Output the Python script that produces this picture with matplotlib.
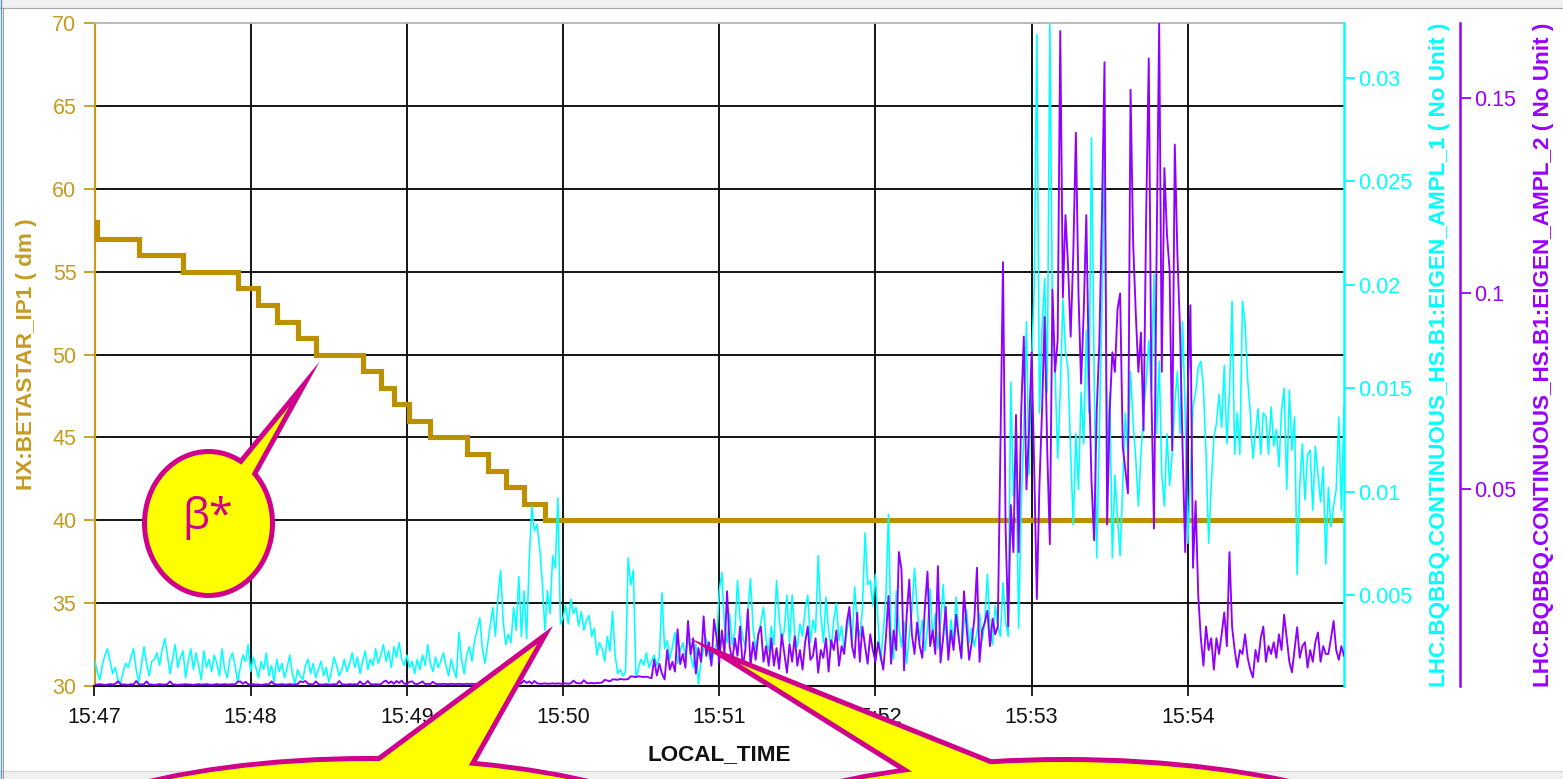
import numpy as np
import matplotlib
matplotlib.use("Agg")
import matplotlib.pyplot as plt
import matplotlib.dates as mdates
from matplotlib.patches import Ellipse, Polygon, Rectangle
from matplotlib.lines import Line2D
from matplotlib.ticker import FixedLocator, FuncFormatter
from matplotlib.transforms import Affine2D

plt.rcParams['font.family'] = ['Liberation Sans', 'DejaVu Sans']

# ---------------------------------------------------------------- data
DAY = '2012-10-28'
START = np.datetime64(f'{DAY}T15:47:00')
END = np.datetime64(f'{DAY}T15:55:00')
SAMPLE_STEP_S = 1

minute_ticks = ['15:47', '15:48', '15:49', '15:50', '15:51', '15:52', '15:53', '15:54']
betastar_ticks = [30, 35, 40, 45, 50, 55, 60, 65, 70]
ampl1_ticks = [0.005, 0.01, 0.015, 0.02, 0.025, 0.03]
ampl2_ticks = [0.05, 0.1, 0.15]

# beta* set-points: seconds after 15:47:00 and value (dm)
betastar_change_s = [0, 1, 17, 34, 55, 63, 70, 78, 85, 103, 110, 115, 121,
                     129, 143, 151, 158, 165, 173, 480]
betastar_dm = [58, 57, 56, 55, 54, 53, 52, 51, 50, 49, 48, 47, 46,
               45, 44, 43, 42, 41, 40, 40]

# EIGEN_AMPL_1, one sample per second, in units of 1e-4
ampl1_e4 = [
    19, 13, 9, 16, 21, 24, 18, 12, 15, 9, 7, 13, 17, 15, 20, 24, 14, 8, 16, 25,
    17, 11, 18, 19, 22, 16, 24, 29, 21, 12, 19, 26, 15, 20, 23, 10, 18, 24, 14, 22,
    16, 9, 23, 15, 19, 13, 21, 17, 11, 24, 14, 10, 19, 22, 16, 8, 15, 21, 18, 26,
    13, 20, 15, 10, 18, 14, 22, 11, 16, 8, 19, 13, 17, 10, 15, 21, 12, 7, 14, 11,
    9, 16, 19, 12, 17, 10, 14, 18, 11, 15, 8, 13, 20, 16, 11, 14, 19, 13, 17, 22,
    15, 20, 12, 18, 23, 14, 19, 16, 24, 17, 21, 26, 18, 23, 15, 25, 20, 27, 19, 16,
    21, 15, 18, 12, 19, 14, 21, 16, 26, 17, 13, 20, 15, 18, 22, 16, 11, 19, 14, 10,
    32, 19, 12, 21, 25, 18, 28, 33, 39, 24, 17, 26, 35, 44, 30, 49, 62, 37, 26, 31,
    27, 44, 33, 59, 30, 52, 29, 67, 93, 81, 84, 73, 57, 33, 52, 41, 69, 63, 97, 36,
    39, 45, 36, 48, 41, 44, 35, 42, 33, 38, 40, 30, 34, 21, 27, 24, 18, 30, 23, 42,
    21, 12, 14, 11, 13, 68, 55, 62, 10, 15, 19, 16, 22, 15, 18, 21, 16, 20, 51, 24,
    28, 19, 25, 32, 17, 23, 27, 20, 30, 21, 15, 26, 7, 18, 24, 29, 21, 17, 22, 27,
    52, 61, 35, 27, 41, 26, 33, 57, 38, 30, 25, 42, 58, 34, 24, 31, 37, 44, 28, 23,
    35, 26, 57, 39, 28, 33, 50, 27, 50, 31, 25, 36, 30, 43, 50, 27, 38, 32, 69, 41,
    27, 49, 33, 24, 38, 46, 28, 35, 23, 32, 41, 26, 54, 36, 30, 43, 80, 55, 57, 45,
    60, 37, 18, 32, 49, 89, 30, 19, 52, 35, 25, 37, 17, 31, 42, 63, 45, 27, 38, 23,
    34, 53, 29, 41, 24, 37, 55, 33, 22, 38, 27, 49, 31, 19, 36, 43, 27, 34, 25, 32,
    41, 28, 37, 60, 33, 26, 45, 35, 30, 56, 37, 30, 153, 98, 123, 34, 93, 128, 182, 108,
    163, 198, 321, 138, 178, 203, 148, 326, 183, 158, 116, 148, 193, 168, 159, 118, 84, 128, 101, 148,
    123, 178, 138, 271, 158, 68, 128, 188, 266, 115, 148, 68, 108, 87, 69, 103, 138, 118, 158, 133,
    116, 93, 118, 138, 153, 173, 148, 205, 128, 163, 108, 93, 128, 103, 118, 143, 158, 128, 182, 138,
    75, 108, 141, 148, 160, 163, 150, 118, 75, 103, 126, 133, 147, 131, 161, 123, 148, 192, 118, 138,
    118, 192, 181, 154, 138, 116, 128, 140, 118, 138, 136, 118, 141, 122, 130, 112, 139, 150, 101, 149,
    120, 136, 60, 103, 123, 96, 118, 120, 91, 122, 108, 95, 112, 65, 102, 83, 93, 101, 136, 91, 141,
]

# EIGEN_AMPL_2, one sample per second, in units of 1e-3
ampl2_e3 = [
    0.2, 0.2, 0.3, 0.2, 0.1, 0.2, 0.3, 0.2, 0.4, 1.0, 0.3, 0.2, 0.2, 0.1, 0.3, 0.2, 1.1, 0.3, 0.2, 0.3,
    1.0, 0.2, 0.2, 0.1, 0.2, 0.3, 0.2, 0.2, 0.3, 1.0, 0.3, 0.2, 0.1, 0.2, 0.2, 0.3, 0.2, 0.2, 0.1, 0.2,
    0.3, 0.2, 0.2, 0.3, 0.2, 0.1, 0.2, 0.3, 0.2, 0.2, 0.3, 0.2, 0.2, 0.3, 0.2, 0.9, 1.0, 0.4, 0.9, 0.3,
    0.2, 0.3, 0.2, 0.2, 0.1, 0.2, 0.3, 0.2, 1.0, 0.3, 0.2, 0.2, 0.3, 0.2, 0.2, 0.3, 0.2, 0.2, 0.3, 1.0,
    0.8, 1.1, 0.4, 0.3, 0.2, 1.0, 0.3, 0.2, 0.2, 0.3, 0.2, 0.2, 0.3, 0.2, 1.1, 0.3, 0.2, 0.2, 0.3, 0.2,
    0.3, 0.2, 1.0, 0.3, 0.4, 1.1, 0.3, 0.2, 0.3, 0.2, 0.3, 0.9, 1.2, 0.5, 1.0, 0.4, 1.1, 0.6, 1.2, 0.4,
    0.3, 0.9, 1.0, 0.4, 0.3, 0.6, 1.0, 0.3, 0.4, 0.3, 0.9, 0.4, 0.3, 0.3, 0.4, 0.3, 0.3, 0.4, 0.3, 0.3,
    0.4, 0.3, 0.3, 0.4, 0.3, 0.4, 0.3, 0.3, 0.4, 0.3, 0.4, 0.3, 0.4, 1.1, 0.4, 0.3, 0.4, 0.3, 0.4, 0.4,
    0.3, 0.4, 0.4, 0.3, 0.5, 1.2, 0.6, 1.0, 0.4, 1.1, 0.5, 0.4, 0.4, 0.5, 0.4, 0.4, 0.5, 0.4, 0.5, 0.4,
    0.5, 0.5, 0.4, 0.5, 1.2, 0.6, 0.5, 0.5, 1.3, 0.6, 0.5, 0.6, 0.5, 0.6, 0.6, 0.7, 1.4, 1.2, 1.0, 1.5,
    1.5, 1.4, 1.6, 1.5, 1.5, 1.6, 2.3, 2.2, 2.1, 2.3, 2.2, 2.1, 2.2, 2.0, 1.8, 6.6, 2.5, 5.5, 3.0, 1.5,
    9.0, 4.0, 6.0, 3.5, 14.3, 5.4, 8.0, 4.5, 16.4, 7.9, 12.0, 3.0, 9.5, 6.0, 17.6, 7.5, 11.0, 5.0, 16.8, 12.0,
    5.8, 14.0, 8.0, 24.0, 10.0, 6.0, 12.0, 7.5, 15.0, 4.5, 9.0, 19.4, 4.8, 11.0, 6.5, 13.0, 15.0, 6.0, 10.0, 5.0,
    12.0, 5.0, 9.5, 4.2, 13.0, 8.0, 3.2, 10.5, 6.0, 12.5, 5.0, 9.0, 4.0, 11.0, 15.0, 6.5, 7.5, 12.0, 3.2, 9.0,
    7.0, 12.0, 3.5, 11.5, 9.0, 14.0, 5.0, 10.0, 8.0, 16.0, 20.0, 10.0, 7.0, 18.5, 6.0, 15.0, 10.0, 5.5, 13.0, 9.0,
    6.0, 11.0, 7.5, 4.0, 12.0, 22.8, 5.5, 14.0, 9.0, 34.0, 29.6, 3.8, 18.0, 27.0, 13.0, 8.0, 16.0, 10.0, 7.0, 20.0,
    29.0, 10.0, 14.0, 8.0, 30.4, 5.8, 12.0, 20.0, 6.5, 14.0, 9.0, 18.0, 12.0, 7.0, 24.0, 15.0, 6.5, 11.0, 17.0, 30.0,
    6.0, 14.0, 16.0, 19.0, 10.0, 17.0, 13.0, 15.0, 60, 108, 40, 15, 46, 34, 69, 34, 70, 89, 50, 65,
    85, 55, 22, 51, 70, 94, 60, 36, 101, 80, 88, 167, 99, 120, 107, 89, 110, 141, 100, 77,
    95, 120, 80, 52, 37, 70, 87, 120, 159, 41, 70, 85, 80, 96, 100, 61, 55, 49, 152, 113,
    95, 80, 90, 65, 120, 160, 75, 40, 110, 169, 80, 132, 115, 106, 60, 138, 110, 91, 60, 34,
    75, 97, 30, 47, 23, 12, 5, 15, 9, 12, 4, 12, 8, 13, 18.6, 10, 34, 15, 9, 4.6,
    9, 8, 13, 7, 4, 2, 9, 6, 12, 15, 6, 10, 8, 11, 7, 13, 9, 18, 12, 6,
    3.3, 9, 14.8, 7, 10, 11, 4.5, 9, 6, 11, 13.5, 6, 10, 8, 8, 12, 16.4, 9, 6.5, 10, 7.5,
]

# ---------------------------------------------------------------- style
W, H = 1563, 779
GOLD_LINE = '#BD9000'
GOLD_TXT = '#C69B22'
CYAN = '#00FFFF'
PURPLE_LINE = '#8E00FF'
PURPLE_TXT = '#9A00FF'
GRID = '#141414'
YELLOW = '#FFFF00'
MAGENTA = '#D0008C'

fig = plt.figure(figsize=(W / 100, H / 100), dpi=100)
fig.patch.set_facecolor('white')

# pixel coordinates (origin top-left) for the window frame and callouts
pix = Affine2D().scale(1 / W, -1 / H).translate(0, 1) + fig.transFigure

# window frame
fig.add_artist(Rectangle((0, 0), W, 8, transform=pix, fc='#F0F0F0', ec='none', zorder=-5))
fig.add_artist(Line2D([0, W], [8.5, 8.5], transform=pix, color='#A9A9A9', lw=0.9, zorder=-4))
fig.add_artist(Rectangle((0, 772), W, 8, transform=pix, fc='#F0F0F0', ec='none', zorder=-5))
fig.add_artist(Line2D([0, W], [771.5, 771.5], transform=pix, color='#D4D4D4', lw=0.8, zorder=-4))
fig.add_artist(Line2D([0.8, 0.8], [0, H], transform=pix, color='#5A9BD8', lw=1.0, zorder=-4))
fig.add_artist(Line2D([2.8, 2.8], [8, H], transform=pix, color='#A0A0A0', lw=0.8, zorder=-4))

# plot area
x0, x1, y0, y1 = 94.5, 1344.0, 23.3, 686.0
ax = fig.add_axes([x0 / W, 1 - y1 / H, (x1 - x0) / W, (y1 - y0) / H])
ax.set_facecolor('white')

times = START + np.arange(len(ampl1_e4)) * np.timedelta64(SAMPLE_STEP_S, 's')
times2 = START + np.arange(len(ampl2_e3)) * np.timedelta64(SAMPLE_STEP_S, 's')
bs_times = START + np.array(betastar_change_s) * np.timedelta64(1, 's')

ax.plot(bs_times, betastar_dm, drawstyle='steps-post', color=GOLD_LINE, lw=3.7,
        solid_joinstyle='miter', zorder=3)
ax.set_xlim(START, END)
ax.set_ylim(30, 70)

xtick_pos = [mdates.date2num(np.datetime64(f'{DAY}T{s}:00')) for s in minute_ticks]
ax.xaxis.set_major_locator(FixedLocator(xtick_pos))
ax.xaxis.set_major_formatter(FuncFormatter(lambda v, p: minute_ticks[p] if p is not None and p < len(minute_ticks) else ''))
ax.set_xticks(xtick_pos, labels=minute_ticks)
ax.set_yticks(betastar_ticks)

# grid
for xv in xtick_pos[1:]:
    ax.axvline(xv, color=GRID, lw=1.4, zorder=1)
for yv in betastar_ticks[1:-1]:
    ax.axhline(yv, color=GRID, lw=1.4, zorder=1)

for side in ('right',):
    ax.spines[side].set_visible(False)
ax.spines['top'].set_color('#B4B4B4')
ax.spines['top'].set_linewidth(1.3)
ax.spines['left'].set_color(GOLD_TXT)
ax.spines['left'].set_linewidth(1.6)
ax.spines['bottom'].set_color('#111111')
ax.spines['bottom'].set_linewidth(1.5)

ax.tick_params(axis='y', colors=GOLD_TXT, length=8, width=1.3, pad=5, labelsize=15.5)
ax.tick_params(axis='x', colors='#111111', length=7.5, width=1.3, pad=7.5, labelsize=15.5)

ax.set_ylabel('HX:BETASTAR_IP1 ( dm )', color=GOLD_TXT, fontsize=16.2, fontweight='bold')
ax.yaxis.set_label_coords((27 - x0) / (x1 - x0), 0.5)
ax.yaxis.label.set_va('center')
ax.set_xlabel('LOCAL_TIME', color='#111111', fontsize=16.2, fontweight='bold')
ax.xaxis.set_label_coords(0.5, -(755 - y1) / (y1 - y0))
ax.xaxis.label.set_va('center')

# first amplitude (cyan axis)
ax2 = ax.twinx()
ax2.plot(times, np.array(ampl1_e4) * 1e-4, color=CYAN, lw=1.15, zorder=3)
ax2.set_ylim(0.000604, 0.03263)
ax2.yaxis.set_major_locator(FixedLocator(ampl1_ticks))
ax2.yaxis.set_major_formatter(FuncFormatter(lambda v, p: f'{v:g}'))
for side in ('top', 'left', 'bottom'):
    ax2.spines[side].set_visible(False)
ax2.spines['right'].set_color(CYAN)
ax2.spines['right'].set_linewidth(1.8)
ax2.tick_params(axis='y', colors=CYAN, length=8, width=1.3, pad=2, labelsize=15.5)
ax2.set_ylabel('LHC.BQBBQ.CONTINUOUS_HS.B1:EIGEN_AMPL_1 ( No Unit )', color=CYAN,
               fontsize=16.2, fontweight='bold')
ax2.yaxis.set_label_coords((1439 - x0) / (x1 - x0), 0.5)
ax2.yaxis.label.set_va('center')

# second amplitude (purple axis, offset)
ax3 = ax.twinx()
ax3.plot(times2, np.array(ampl2_e3) * 1e-3, color=PURPLE_LINE, lw=1.35, zorder=3)
ax3.set_ylim(-0.00018, 0.16895)
ax3.yaxis.set_major_locator(FixedLocator(ampl2_ticks))
ax3.yaxis.set_major_formatter(FuncFormatter(lambda v, p: f'{v:g}'))
for side in ('top', 'left', 'bottom'):
    ax3.spines[side].set_visible(False)
ax3.spines['right'].set_position(('axes', (1460 - x0) / (x1 - x0)))
ax3.spines['right'].set_color(PURPLE_TXT)
ax3.spines['right'].set_linewidth(1.8)
ax3.tick_params(axis='y', colors=PURPLE_TXT, length=8, width=1.3, pad=2.5, labelsize=15.5)
ax3.set_ylabel('LHC.BQBBQ.CONTINUOUS_HS.B1:EIGEN_AMPL_2 ( No Unit )', color=PURPLE_TXT,
               fontsize=16.2, fontweight='bold')
ax3.yaxis.set_label_coords((1544 - x0) / (x1 - x0), 0.5)
ax3.yaxis.label.set_va('center')


# ---------------------------------------------------------------- callouts
BORDER = 5.0


def shrink_triangle(pts, d):
    p = np.asarray(pts, float)
    a = np.linalg.norm(p[1] - p[2])
    b = np.linalg.norm(p[0] - p[2])
    c = np.linalg.norm(p[0] - p[1])
    inc = (a * p[0] + b * p[1] + c * p[2]) / (a + b + c)
    s = (a + b + c) / 2
    area = 0.5 * abs((p[1, 0] - p[0, 0]) * (p[2, 1] - p[0, 1]) - (p[2, 0] - p[0, 0]) * (p[1, 1] - p[0, 1]))
    r = area / s
    k = (r - d) / r
    return inc + (p - inc) * k


def callout(center, size, tail, z=20):
    cx, cy = center
    w, h = size
    fig.add_artist(Ellipse((cx, cy), w, h, transform=pix, fc=MAGENTA, ec='none', zorder=z))
    fig.add_artist(Polygon(tail, closed=True, transform=pix, fc=MAGENTA, ec='none', zorder=z))
    fig.add_artist(Ellipse((cx, cy), w - 2 * BORDER, h - 2 * BORDER, transform=pix,
                           fc=YELLOW, ec='none', zorder=z + 1))
    fig.add_artist(Polygon(shrink_triangle(tail, BORDER), closed=True, transform=pix,
                           fc=YELLOW, ec='none', zorder=z + 1))


callout((208.5, 523.5), (133, 149), [(320, 361), (173, 540), (221, 540)])
callout((369, 876), (748, 240), [(553, 626), (319, 800), (455, 800)])
callout((1065, 877), (780, 240), [(689, 638), (1118, 810), (964, 810)])

fig.text(208, 518, 'β*', transform=pix, color=MAGENTA, fontsize=31,
         family=['Open Sans', 'DejaVu Sans'], ha='center', va='center', zorder=30)

fig.savefig('out.png', dpi=100)
